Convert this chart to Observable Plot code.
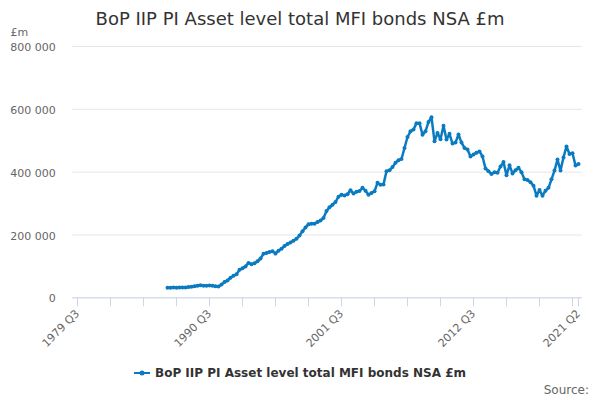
<!DOCTYPE html>
<html>
<head>
<meta charset="utf-8">
<script src="https://cdn.jsdelivr.net/npm/d3@7"></script>
<script src="https://cdn.jsdelivr.net/npm/@observablehq/plot@0.6"></script>
<style>
  html, body { margin: 0; padding: 0; background: #fff; }
  #wrap { width: 600px; height: 400px; font-family: "DejaVu Sans", sans-serif; overflow: hidden; }
  #title { height: 24px; line-height: 24px; font-size: 18px; text-align: center; color: #333; position: relative; top: 7px; white-space: nowrap; }
  #chart svg { display: block; }
  #legend { margin-top: 15px; height: 16px; line-height: 16px; font-size: 12px; font-weight: bold; color: #333;
            display: flex; justify-content: center; align-items: center; white-space: nowrap; }
  #legend svg { margin-right: 5px; }
  #source { margin-top: 1px; height: 16px; line-height: 16px; text-align: right; padding-right: 11px; font-size: 12px; color: #666; }
</style>
</head>
<body>
<div id="wrap">
  <div id="title"></div>
  <div id="chart"></div>
  <div id="legend"></div>
  <div id="source"></div>
</div>
<script>
// ---- text ----
const titleText = "BoP IIP PI Asset level total MFI bonds NSA £m";
const seriesName = "BoP IIP PI Asset level total MFI bonds NSA £m";
const unitLabel = "£m";
const sourceText = "Source:";

// ---- categories: quarters 1979 Q3 .. 2021 Q2 ----
const firstYear = 1979, firstQuarter = 3, quarterCount = 168;
const quarters = Array.from({length: quarterCount}, (_, k) => {
  const t = firstQuarter - 1 + k;
  return `${firstYear + Math.floor(t / 4)} Q${(t % 4) + 1}`;
});

// ---- series values (£m), starting at 1987 Q1 ----
const dataStart = "1987 Q1";
const values = [
  32000, 32000, 32500, 32000, 33000, 32500, 33000, 34000, 35000, 37000,
  38000, 40000, 38000, 38000, 39000, 38000, 37000, 36000, 42000, 50000,
  55000, 64000, 70000, 75000, 89000, 94000, 100000, 111000, 107000, 110000,
  116000, 125000, 140000, 143000, 146000, 148000, 141000, 150000, 156000, 165000,
  171000, 176000, 182000, 188000, 198000, 212000, 224000, 234000, 236000, 236000,
  241000, 246000, 254000, 276000, 288000, 296000, 305000, 322000, 328000, 326000,
  330000, 342000, 332000, 338000, 340000, 350000, 341000, 328000, 334000, 339000,
  366000, 360000, 361000, 403000, 406000, 416000, 430000, 438000, 442000, 477000,
  512000, 530000, 536000, 556000, 556000, 519000, 530000, 560000, 575000, 498000,
  525000, 505000, 548000, 504000, 522000, 491000, 494000, 520000, 494000, 477000,
  472000, 450000, 456000, 462000, 466000, 450000, 412000, 403000, 394000, 400000,
  398000, 418000, 432000, 390000, 422000, 396000, 406000, 414000, 400000, 377000,
  375000, 368000, 357000, 325000, 343000, 325000, 341000, 350000, 377000, 405000,
  440000, 405000, 447000, 482000, 458000, 460000, 421000, 426000
];

// ---- ticks ----
const yTicks = [0, 200000, 400000, 600000, 800000];
const xTickLabels = ["1979 Q3", "1990 Q3", "2001 Q3", "2012 Q3", "2021 Q2"];
const xTickStep = 11;

// ---- build ----
const blue = "#0b7bc1";
const s0 = quarters.indexOf(dataStart);
const data = values.map((v, k) => ({q: quarters[s0 + k], v}));
const xTickMarks = quarters.filter((_, k) => k % xTickStep === 0 || k === quarters.length - 1);
const fmtY = d => d3.format(",")(d).replace(/,/g, " ");

document.getElementById("title").textContent = titleText;
document.getElementById("source").textContent = sourceText;

const chart = Plot.plot({
  width: 600,
  height: 326,
  marginTop: 22,
  marginBottom: 52.7,
  marginLeft: 72.3,
  marginRight: 18.3,
  style: {fontFamily: "'DejaVu Sans', sans-serif", fontSize: "11px", color: "#666", background: "#fff", overflow: "visible"},
  x: {type: "point", domain: quarters, padding: 0, label: null},
  y: {domain: [0, 800000], label: null},
  marks: [
    Plot.gridY({ticks: yTicks, stroke: "#e6e6e6", strokeOpacity: 1}),
    Plot.axisY({ticks: yTicks, tickSize: 0, tickPadding: 17, tickFormat: fmtY, fill: "#666", fontSize: 11, label: null, dy: 1}),
    Plot.text([unitLabel], {frameAnchor: "top-left", dx: -62.3, dy: -14, textAnchor: "start", lineAnchor: "middle", fill: "#666", fontSize: 11}),
    Plot.ruleY([0], {stroke: "#ccd6eb"}),
    Plot.axisX({ticks: xTickMarks, tickSize: 9, tickFormat: () => "", stroke: "#ccd6eb", strokeOpacity: 1, label: null}),
    Plot.axisX({ticks: xTickLabels, tickSize: 0, tickRotate: -45, tickPadding: 10, dy: 4, fill: "#666", fontSize: 11, label: null}),
    Plot.line(data, {x: "q", y: "v", stroke: blue, strokeWidth: 2.5, strokeLinejoin: "round"}),
    Plot.dot(data, {x: "q", y: "v", r: 2, fill: blue})
  ]
});
document.getElementById("chart").append(chart);

// legend
const legend = document.getElementById("legend");
const ns = "http://www.w3.org/2000/svg";
const sym = document.createElementNS(ns, "svg");
sym.setAttribute("width", "16");
sym.setAttribute("height", "10");
const ln = document.createElementNS(ns, "line");
ln.setAttribute("x1", "0"); ln.setAttribute("x2", "16"); ln.setAttribute("y1", "5"); ln.setAttribute("y2", "5");
ln.setAttribute("stroke", blue); ln.setAttribute("stroke-width", "2");
const c = document.createElementNS(ns, "circle");
c.setAttribute("cx", "8"); c.setAttribute("cy", "5"); c.setAttribute("r", "2.5"); c.setAttribute("fill", blue);
sym.append(ln, c);
const span = document.createElement("span");
span.textContent = seriesName;
legend.append(sym, span);
</script>
</body>
</html>
